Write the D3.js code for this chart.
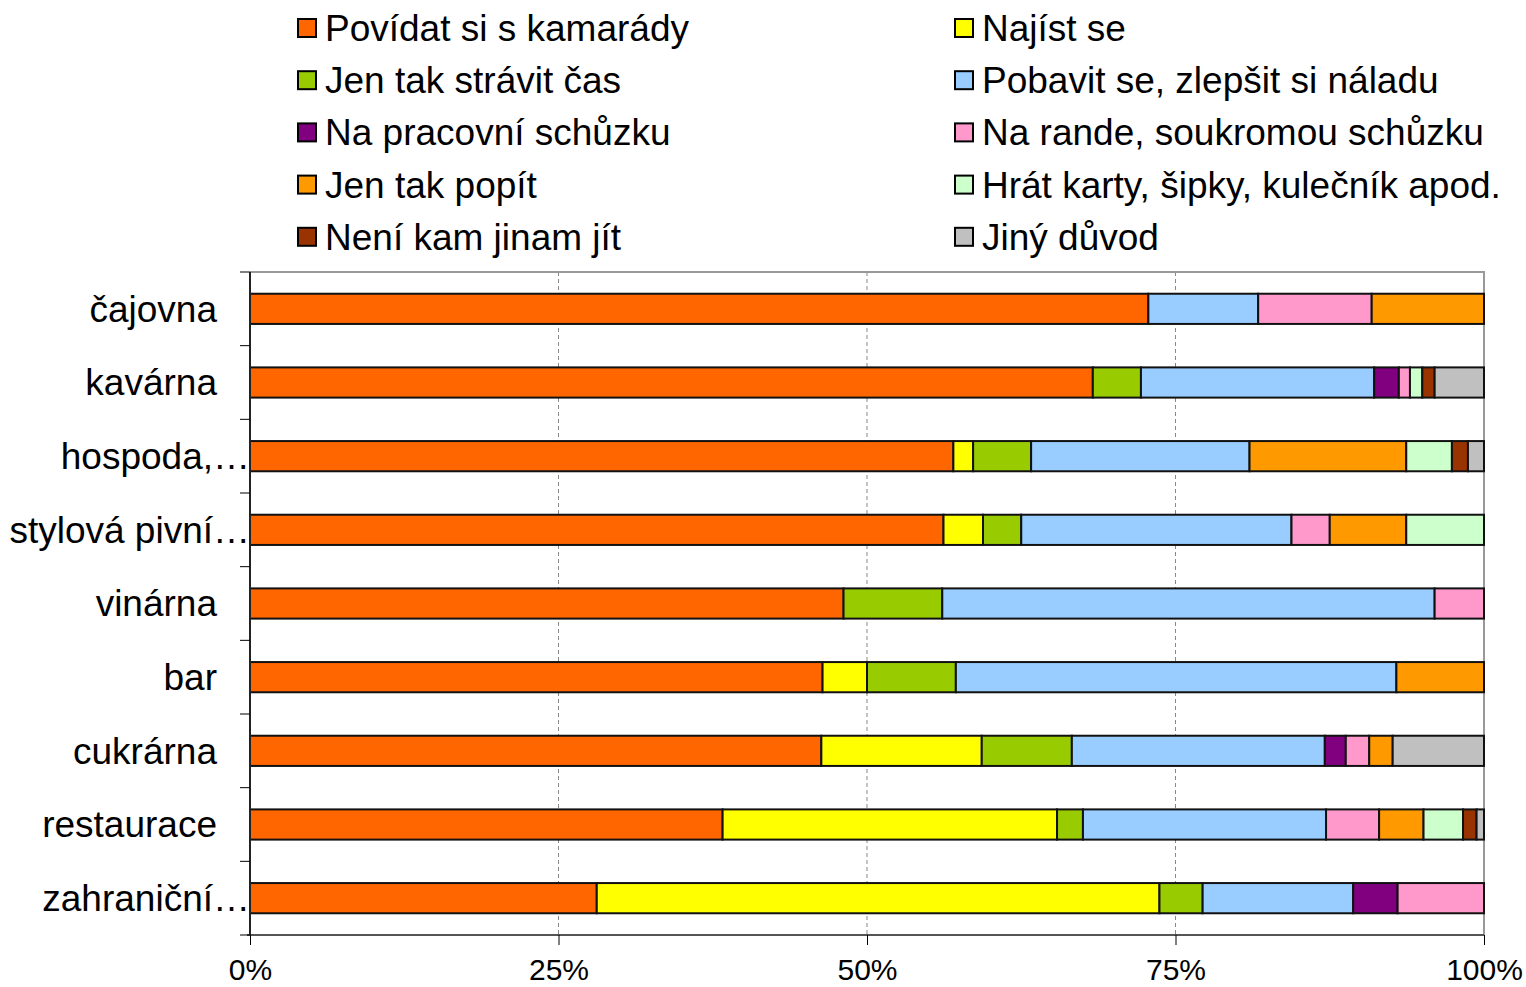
<!DOCTYPE html>
<html>
<head>
<meta charset="utf-8">
<script src="https://cdn.jsdelivr.net/npm/d3@7"></script>
<style>
  body { margin: 0; background: #fff; }
  svg { font-family: "Liberation Sans", Arial, sans-serif; }
</style>
</head>
<body>
<div id="chart"></div>
<script>
const categories = ["čajovna", "kavárna", "hospoda,…", "stylová pivní…", "vinárna", "bar", "cukrárna", "restaurace", "zahraniční…"];
const seriesNames = ["Povídat si s kamarády", "Najíst se", "Jen tak strávit čas", "Pobavit se, zlepšit si náladu",
  "Na pracovní schůzku", "Na rande, soukromou schůzku", "Jen tak popít", "Hrát karty, šipky, kulečník apod.",
  "Není kam jinam jít", "Jiný důvod"];
const seriesColors = ["#FF6600", "#FFFF00", "#99CC00", "#99CCFF", "#800080", "#FF99CC", "#FF9900", "#CCFFCC", "#993300", "#C0C0C0"];

// percent per category, in series order
const povidat  = [72.8, 68.3, 57.0, 56.2, 48.1, 46.4, 46.3, 38.3, 28.1];
const najist   = [0,    0,    1.6,  3.2,  0,    3.6,  13.0, 27.1, 45.6];
const stravit  = [0,    3.9,  4.7,  3.1,  8.0,  7.2,  7.3,  2.1,  3.5];
const pobavit  = [8.9,  18.9, 17.7, 21.9, 39.9, 35.7, 20.5, 19.7, 12.2];
const pracovni = [0,    2.0,  0,    0,    0,    0,    1.7,  0,    3.6];
const rande    = [9.2,  0.9,  0,    3.1,  4.0,  0,    1.9,  4.3,  7.0];
const popit    = [9.1,  0,    12.7, 6.2,  0,    7.1,  1.9,  3.6,  0];
const hrat     = [0,    1.0,  3.7,  6.3,  0,    0,    0,    3.2,  0];
const neni     = [0,    1.0,  1.3,  0,    0,    0,    0,    1.1,  0];
const jiny     = [0,    4.0,  1.3,  0,    0,    0,    7.4,  0.6,  0];
const seriesValues = [povidat, najist, stravit, pobavit, pracovni, rande, popit, hrat, neni, jiny];
const xTicks = [0, 25, 50, 75, 100];

const width = 1526, height = 987;
const plot = {left: 250, right: 1484, top: 272, bottom: 935};

const svg = d3.select("#chart").append("svg")
    .attr("width", width)
    .attr("height", height);

const rows = categories.map((c, i) => {
    const r = {cat: c};
    seriesNames.forEach((s, j) => r[s] = seriesValues[j][i]);
    return r;
});
const stacked = d3.stack().keys(seriesNames)(rows);

const x = d3.scaleLinear().domain([0, 100]).range([plot.left, plot.right]);
const y = d3.scaleBand().domain(categories).range([plot.top, plot.bottom]).paddingInner(0.59).paddingOuter(0.295);
const yEdges = d3.scaleBand().domain(categories).range([plot.top, plot.bottom]);

// gridlines
svg.append("g").selectAll("line")
    .data(xTicks.slice(1, -1))
    .join("line")
    .attr("x1", d => x(d)).attr("x2", d => x(d))
    .attr("y1", plot.top).attr("y2", plot.bottom)
    .attr("stroke", "#888").attr("stroke-width", 1).attr("stroke-dasharray", "4,3");

// top / right frame
svg.append("path")
    .attr("d", `M${plot.left},${plot.top}H${plot.right}V${plot.bottom}`)
    .attr("fill", "none").attr("stroke", "#999").attr("stroke-width", 2);

// bars
svg.append("g").selectAll("g")
    .data(stacked)
    .join("g")
    .attr("fill", (d, i) => seriesColors[i])
    .selectAll("rect")
    .data(d => d.filter(p => p[1] - p[0] > 0))
    .join("rect")
    .attr("x", d => x(d[0]))
    .attr("width", d => x(d[1]) - x(d[0]))
    .attr("y", d => y(d.data.cat))
    .attr("height", y.bandwidth())
    .attr("stroke", "#111").attr("stroke-width", 2);

// x axis
const xAxis = svg.append("g")
    .attr("transform", `translate(0,${plot.bottom})`)
    .call(d3.axisBottom(x).tickValues(xTicks).tickFormat(d => d + "%").tickSize(10).tickPadding(14));
xAxis.select(".domain").attr("stroke", "#555").attr("stroke-width", 2).attr("d", `M${plot.left - 3},0H${plot.right}`);
xAxis.selectAll("text").attr("font-size", 30).attr("fill", "#000").attr("font-family", "Liberation Sans, Arial");
xAxis.selectAll(".tick line").attr("stroke", "#000");

// y axis line with ticks at category boundaries
const yg = svg.append("g");
yg.append("line")
    .attr("x1", plot.left).attr("x2", plot.left)
    .attr("y1", plot.top).attr("y2", plot.bottom)
    .attr("stroke", "#222").attr("stroke-width", 2);
yg.selectAll("line.tk")
    .data(categories)
    .join("line").attr("class", "tk")
    .attr("x1", plot.left - 10).attr("x2", plot.left)
    .attr("y1", d => yEdges(d)).attr("y2", d => yEdges(d))
    .attr("stroke", "#000").attr("stroke-width", 1);
yg.append("line")
    .attr("x1", plot.left - 10).attr("x2", plot.left)
    .attr("y1", plot.bottom).attr("y2", plot.bottom)
    .attr("stroke", "#000");

yg.selectAll("text")
    .data(categories)
    .join("text")
    .attr("x", d => d.endsWith("…") ? plot.left : plot.left - 33)
    .attr("y", d => y(d) + y.bandwidth() / 2)
    .attr("dy", "0.35em")
    .attr("text-anchor", "end")
    .attr("font-size", 37)
    .text(d => d);

// legend: 2 columns, row-major
const legend = svg.append("g");
const legItems = legend.selectAll("g")
    .data(seriesNames)
    .join("g")
    .attr("transform", (d, i) => `translate(${i % 2 === 0 ? 298 : 955},${28 + Math.floor(i / 2) * 52.2})`);
legItems.append("rect")
    .attr("x", 0).attr("y", -9).attr("width", 18).attr("height", 18)
    .attr("fill", (d, i) => seriesColors[i])
    .attr("stroke", "#000").attr("stroke-width", 2);
legItems.append("text")
    .attr("x", 27).attr("dy", "0.35em")
    .attr("font-size", 37)
    .text(d => d);
</script>
</body>
</html>
